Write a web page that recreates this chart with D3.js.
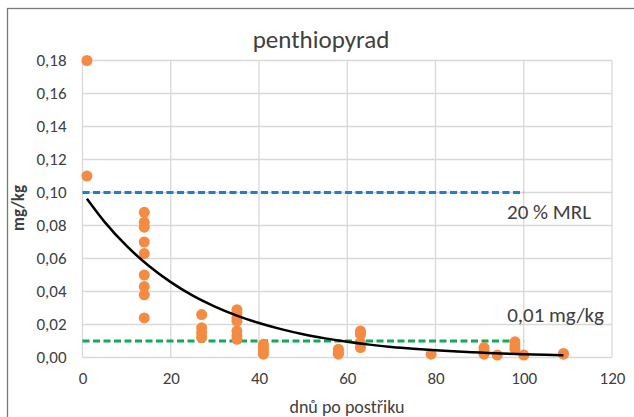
<!DOCTYPE html>
<html>
<head>
<meta charset="utf-8">
<script src="https://cdn.jsdelivr.net/npm/d3@7"></script>
<style>
  html, body { margin: 0; padding: 0; background: #fff; }
  svg text { font-family: Calibri, Carlito, Lato, sans-serif; fill: #404040; }
</style>
</head>
<body>
<svg id="chart"></svg>
<script>
const chart = d3.select("#chart");
const width = 634, height = 417;

// days after spraying for each measured residue
const days = [
  1, 1,
  14, 14, 14, 14, 14, 14, 14, 14, 14,
  27, 27, 27, 27,
  35, 35, 35, 35, 35, 35, 35,
  41, 41, 41, 41,
  58, 58, 58,
  63, 63, 63, 63,
  79,
  91, 91, 91,
  94,
  98, 98, 98,
  100,
  109, 109
];
// residue mg/kg
const residues = [
  0.180, 0.110,
  0.088, 0.082, 0.079, 0.070, 0.063, 0.050, 0.043, 0.038, 0.024,
  0.026, 0.018, 0.015, 0.012,
  0.029, 0.027, 0.024, 0.022, 0.016, 0.013, 0.011,
  0.008, 0.006, 0.004, 0.002,
  0.005, 0.003, 0.002,
  0.016, 0.014, 0.009, 0.006,
  0.002,
  0.006, 0.004, 0.002,
  0.0015,
  0.0095, 0.007, 0.005,
  0.0015,
  0.0025, 0.002
];
// exponential trend line as it appears in the picture
const trendDays = [1, 5, 10, 15, 20, 25, 30, 35, 40, 45, 50, 55, 60, 65, 70, 75, 80, 85, 90, 95, 100, 105, 109];
const trendValues = [0.0962, 0.0822, 0.0676, 0.0556, 0.0457, 0.0375, 0.0309, 0.0254, 0.0209, 0.0172, 0.0141, 0.0116, 0.0095, 0.0078, 0.0064, 0.0053, 0.0044, 0.0036, 0.0030, 0.0024, 0.0020, 0.0016, 0.0014];

const xTicks = [0, 20, 40, 60, 80, 100, 120];
const yTicks = [0, 0.02, 0.04, 0.06, 0.08, 0.10, 0.12, 0.14, 0.16, 0.18];

// reference levels
const mrlLevel = 0.10, mrlLabel = "20 % MRL";
const loqLevel = 0.01, loqLabel = "0,01 mg/kg";
const limitEndDay = 100;

const margin = { top: 60.5, right: 22, bottom: 59.5, left: 82.5 };

chart.attr("width", width).attr("height", height);

// outer chart frame
chart.append("rect")
  .attr("x", 7.5).attr("y", 8.5)
  .attr("width", width + 10).attr("height", height + 10)
  .attr("fill", "#fff")
  .attr("stroke", "#7a7a7a")
  .attr("stroke-width", 1.3);

const x = d3.scaleLinear()
  .domain([0, 120])
  .range([margin.left, width - margin.right]);

const y = d3.scaleLinear()
  .domain([0, 0.18])
  .range([height - margin.bottom, margin.top]);

const fmt = d => d3.format(".2f")(d).replace(".", ",");

// gridlines
chart.append("g")
  .selectAll("line")
  .data(yTicks)
  .join("line")
  .attr("x1", x(0)).attr("x2", x(120))
  .attr("y1", d => y(d)).attr("y2", d => y(d))
  .attr("stroke", "#d9d9d9").attr("stroke-width", 1.3);

chart.append("g")
  .selectAll("line")
  .data(xTicks)
  .join("line")
  .attr("x1", d => x(d)).attr("x2", d => x(d))
  .attr("y1", y(0)).attr("y2", y(0.18))
  .attr("stroke", "#d9d9d9").attr("stroke-width", 1.3);

// Y axis labels
const yAxis = chart.append("g")
  .attr("transform", `translate(${x(0)},0)`)
  .call(d3.axisLeft(y).tickValues(yTicks).tickFormat(fmt).tickSize(0).tickPadding(16));
yAxis.select(".domain").remove();
yAxis.selectAll("text")
  .style("font-size", "17px")
  .attr("fill", "#404040");

// X axis labels
const xAxis = chart.append("g")
  .attr("transform", `translate(0,${y(0)})`)
  .call(d3.axisBottom(x).tickValues(xTicks).tickSize(0).tickPadding(14));
xAxis.select(".domain").remove();
xAxis.selectAll("text")
  .style("font-size", "17px")
  .attr("fill", "#404040");

// reference lines
chart.append("line")
  .attr("x1", x(0)).attr("x2", x(limitEndDay))
  .attr("y1", y(mrlLevel)).attr("y2", y(mrlLevel))
  .attr("stroke", "#1f7fc8").attr("stroke-width", 2.8)
  .attr("stroke-dasharray", "7,3.5");

chart.append("line")
  .attr("x1", x(0)).attr("x2", x(limitEndDay))
  .attr("y1", y(loqLevel)).attr("y2", y(loqLevel))
  .attr("stroke", "#13a85a").attr("stroke-width", 2.8)
  .attr("stroke-dasharray", "7,3.5");

// points
chart.append("g")
  .selectAll("circle")
  .data(days.map((d, i) => ({ day: d, value: residues[i] })))
  .join("circle")
  .attr("cx", d => x(d.day))
  .attr("cy", d => y(d.value))
  .attr("r", 5.5)
  .attr("fill", "#f58a42");

// trend line
const trend = trendDays.map((d, i) => [d, trendValues[i]]);
chart.append("path")
  .datum(trend)
  .attr("fill", "none")
  .attr("stroke", "#000")
  .attr("stroke-width", 2.5)
  .attr("d", d3.line().x(d => x(d[0])).y(d => y(d[1])).curve(d3.curveMonotoneX));

// reference labels
chart.append("text")
  .attr("x", 591).attr("y", 219)
  .attr("text-anchor", "end")
  .style("font-size", "21px")
  .text(mrlLabel);

chart.append("text")
  .attr("x", 604).attr("y", 322)
  .attr("text-anchor", "end")
  .style("font-size", "21px")
  .text(loqLabel);

// title
chart.append("text")
  .attr("x", 321).attr("y", 48)
  .attr("text-anchor", "middle")
  .style("font-size", "25px")
  .attr("fill", "#000")
  .text("penthiopyrad");

// axis titles
chart.append("text")
  .attr("transform", "rotate(-90)")
  .attr("x", -208).attr("y", 24)
  .attr("text-anchor", "middle")
  .style("font-size", "17px")
  .style("font-weight", 600)
  .attr("fill", "#000")
  .text("mg/kg");

chart.append("text")
  .attr("x", 347).attr("y", 413)
  .attr("text-anchor", "middle")
  .style("font-size", "18px")
  .text("dnů po postřiku");
</script>
</body>
</html>
